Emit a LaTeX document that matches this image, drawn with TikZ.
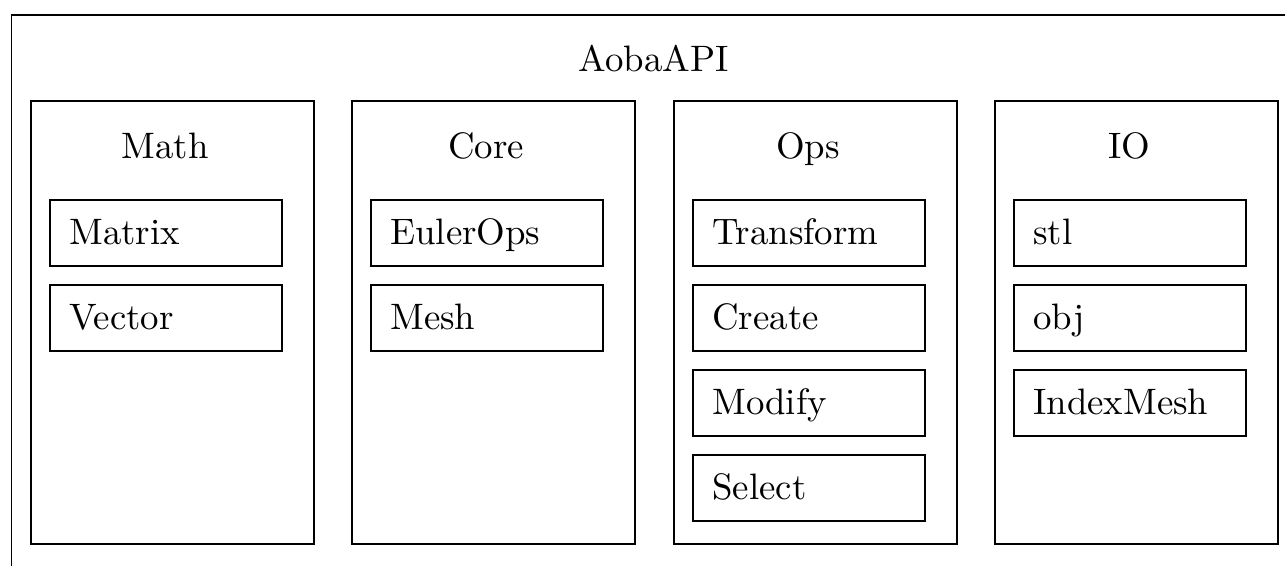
\documentclass[tikz,border=0pt]{standalone}
\begin{document}
\begin{tikzpicture}[x=0.2717pt,y=-0.2717pt, line width=0.45pt,
  frame/.style={draw, anchor=north west, inner sep=0pt},
  col/.style={frame, minimum width=76.89pt, minimum height=120.36pt},
  item/.style={draw, anchor=north west, minimum width=63.03pt, minimum height=17.93pt,
    inner xsep=5.3pt, inner ysep=0pt, text width=52.43pt, align=left,
    text height=7pt, text depth=0.75pt},
  title/.style={anchor=base}]
\useasboundingbox (0,0) rectangle (1285,565);
\node[frame, minimum width=353.2pt, minimum height=154.9pt] (api) at (10.5,14) {};
\node[title] (apit) at (653.5,71.5) {AobaAPI};
% Math
\node[col] (math) at (30,100) {};
\node[title] (matht) at (165,158) {Math};
\node[item] (matrix) at (49,199) {Matrix};
\node[item] (vector) at (49,284) {Vector};
% Core
\node[col] (core) at (351,100) {};
\node[title] (coret) at (486,158) {Core};
\node[item] (euler) at (370,199) {EulerOps};
\node[item] (mesh) at (370,284) {Mesh};
% Ops
\node[col] (ops) at (673,100) {};
\node[title] (opst) at (808,158) {Ops};
\node[item] (transform) at (692,199) {Transform};
\node[item] (create) at (692,284) {Create};
\node[item] (modify) at (692,369) {Modify};
\node[item] (select) at (692,454) {Select};
% IO
\node[col] (io) at (994,100) {};
\node[title] (iot) at (1129,158) {IO};
\node[item] (stl) at (1013,199) {stl};
\node[item] (obj) at (1013,284) {obj};
\node[item] (indexmesh) at (1013,369) {IndexMesh};
\end{tikzpicture}
\end{document}
